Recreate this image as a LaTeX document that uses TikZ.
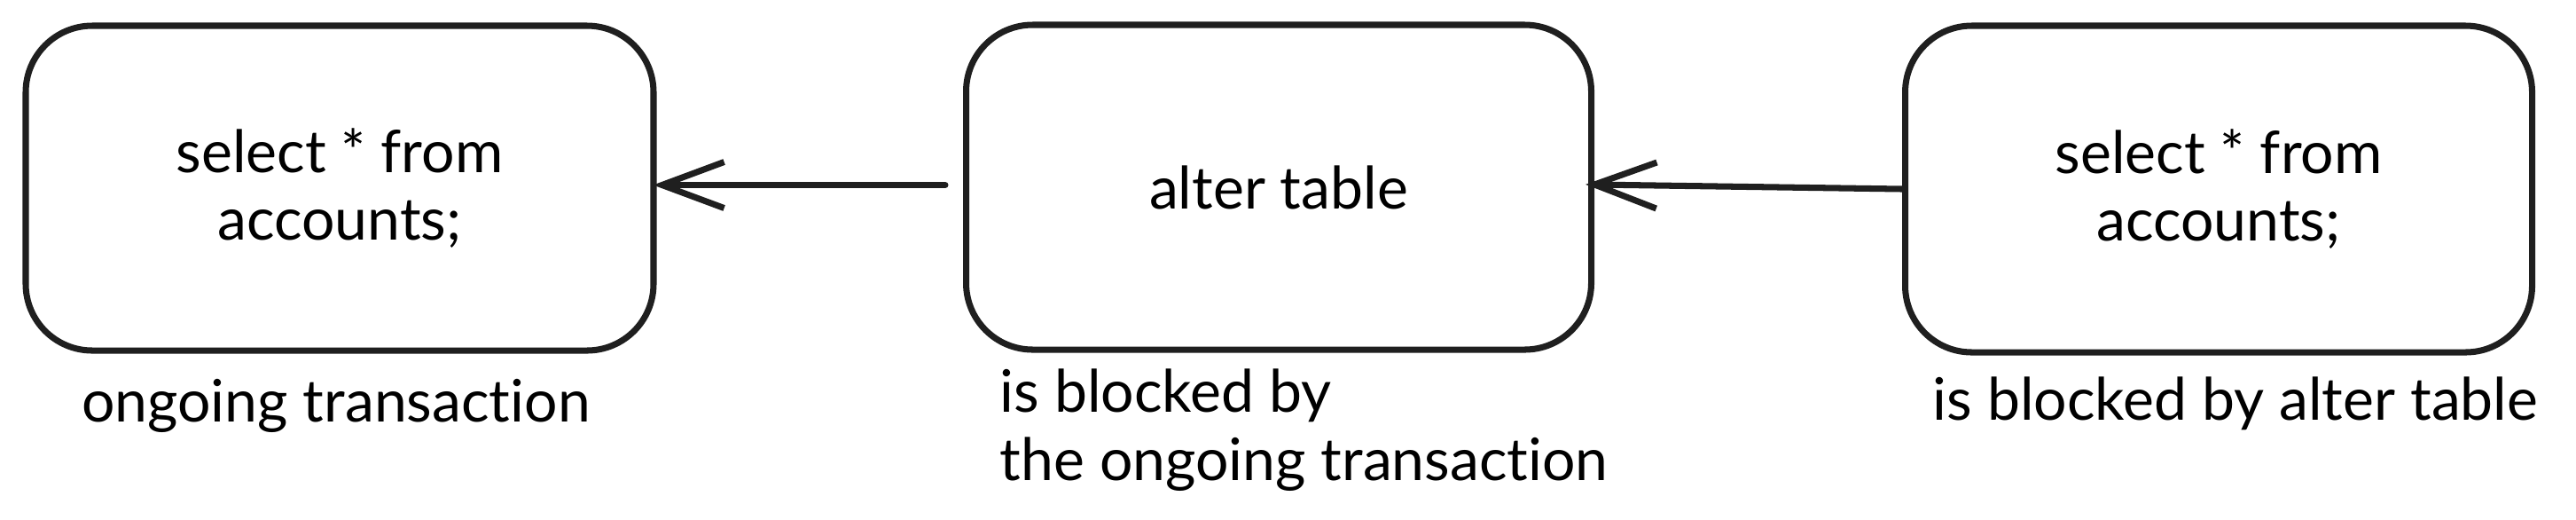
\documentclass[tikz,border=0pt]{standalone}
\usepackage{fontspec}
\setmainfont[Ligatures={NoCommon}]{Lato}
\usetikzlibrary{arrows.meta}
\tikzset{
  box/.style={draw=black!88, line width=2pt, rounded corners=0.75cm, inner sep=0pt, align=center},
  lbl/.style={inner sep=0pt, align=left},
  conn/.style={draw=black!88, line width=2pt, line cap=round, -{Straight Barb[length=0.7cm,width=0.52cm,line width=2pt]}},
  txt/.style={font=\fontsize{18.8}{21.8}\selectfont}
}
\begin{document}
\begin{tikzpicture}
\useasboundingbox (0,0) rectangle (29.05,-5.85);
\node[box, txt, minimum width=7.08cm, minimum height=3.66cm] (b1) at (3.83,-2.12) {select * from\\accounts;};
\node[box, txt, minimum width=7.05cm, minimum height=3.66cm] (b2) at (14.42,-2.11) {alter table};
\node[box, txt, minimum width=7.07cm, minimum height=3.68cm] (b3) at (25.02,-2.13) {select * from\\accounts;};
\node[lbl, txt, anchor=center] (l1) at (3.79,-4.57) {ongoing transaction};
\node[lbl, txt, anchor=north west] (l2) at (11.27,-4.15) {is blocked by\\the ongoing transaction};
\node[lbl, txt, anchor=center] (l3) at (25.21,-4.55) {is blocked by alter table};
\draw[conn, shorten <=0.2cm, shorten >=-0.04cm] (b2.west |- 0,-2.085) -- (b1.east |- 0,-2.085);
\draw[conn, shorten >=-0.1cm] (b3.west) -- (b2.east |- 0,-2.08);
\end{tikzpicture}
\end{document}
